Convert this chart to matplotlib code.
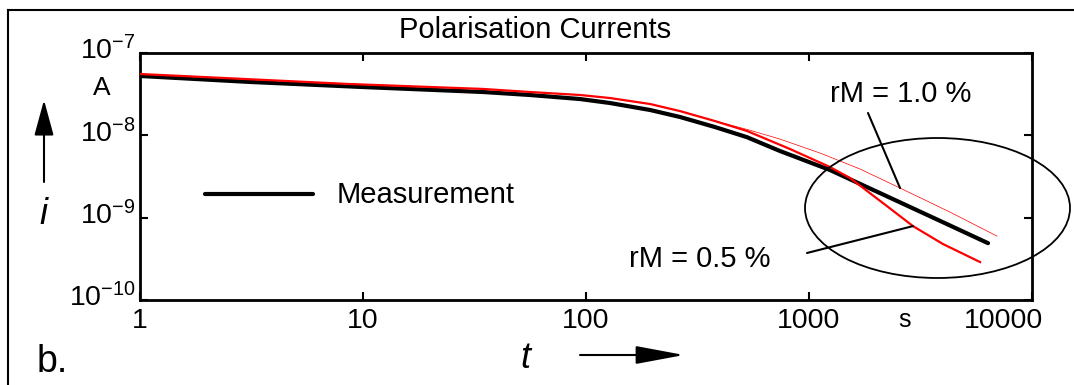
import matplotlib
matplotlib.use("Agg")
import matplotlib.pyplot as plt
from matplotlib.patches import Ellipse, FancyArrowPatch
from matplotlib.lines import Line2D
from matplotlib.ticker import NullLocator
from matplotlib.transforms import ScaledTranslation

plt.rcParams['font.family'] = ['Liberation Sans', 'DejaVu Sans']
plt.rcParams['mathtext.fontset'] = 'custom'
plt.rcParams['mathtext.rm'] = 'Liberation Sans'
plt.rcParams['mathtext.it'] = 'Liberation Sans:italic'

# Measured polarisation current (s, A)
t_meas = [1, 3.11, 10, 34.5, 56, 94, 128, 194, 264, 379, 527, 741, 1242,
          2080, 4155, 6350]
i_meas = [5.26e-8, 4.45e-8, 3.86e-8, 3.36e-8, 3.09e-8, 2.76e-8, 2.47e-8,
          2.03e-8, 1.67e-8, 1.26e-8, 9.5e-9, 6.45e-9, 3.79e-9, 1.99e-9,
          8.36e-10, 4.9e-10]

# Calculated current, rM = 0.5 %
t_rm05 = [1, 8.7, 34.5, 56, 94, 128, 194, 264, 379, 527, 822, 1242, 1528,
          2238, 2925, 3990, 5850]
i_rm05 = [5.56e-8, 4.2e-8, 3.66e-8, 3.36e-8, 3.09e-8, 2.84e-8, 2.40e-8,
          1.97e-8, 1.49e-8, 1.13e-8, 6.82e-9, 4.12e-9, 3.03e-9, 1.38e-9,
          7.9e-10, 4.78e-10, 2.89e-10]

# Calculated current, rM = 1.0 %
t_rm10 = [1, 8.7, 34.5, 56, 94, 128, 194, 264, 379, 540, 741, 1120, 1693,
          2560, 4285, 6970]
i_rm10 = [5.56e-8, 4.2e-8, 3.66e-8, 3.36e-8, 3.09e-8, 2.84e-8, 2.40e-8,
          1.97e-8, 1.49e-8, 1.16e-8, 9.0e-9, 6.1e-9, 3.9e-9, 2.29e-9,
          1.17e-9, 5.97e-10]

x_ticks = [1, 10, 100, 1000, 10000]
x_tick_labels = ['1', '10', '100', '1000', '10000']
y_ticks = [1e-10, 1e-9, 1e-8, 1e-7]
y_tick_labels = [r'$\mathregular{10^{-10}}$', r'$\mathregular{10^{-9}}$',
                 r'$\mathregular{10^{-8}}$', r'$\mathregular{10^{-7}}$']

W, H = 1074, 385
fig = plt.figure(figsize=(W / 100, H / 100), dpi=100)


def fx(x):
    return x / W


def fy(y):
    return 1 - y / H


ax = fig.add_axes([fx(140), fy(300), fx(1032) - fx(140), fy(53) - fy(300)])
ax.set_xscale('log')
ax.set_yscale('log')
ax.set_xlim(1, 1e4)
ax.set_ylim(1e-10, 1e-7)

ax.plot(t_meas, i_meas, color='black', lw=3.0, solid_capstyle='round', zorder=2)
ax.plot(t_rm05, i_rm05, color='#ff0000', lw=1.6, zorder=3)
ax.plot(t_rm10, i_rm10, color='#ff0000', lw=0.5, zorder=3)

ax.set_xticks(x_ticks, x_tick_labels)
ax.set_yticks(y_ticks, y_tick_labels)
ax.xaxis.set_minor_locator(NullLocator())
ax.yaxis.set_minor_locator(NullLocator())
ax.tick_params(which='both', direction='in', top=True, right=True,
               length=6, width=1.5, labelsize=20.5)
ax.tick_params(axis='x', pad=6)
ax.tick_params(axis='y', pad=3)
for s in ax.spines.values():
    s.set_linewidth(2)

for lbl in ax.get_yticklabels():
    lbl.set_transform(lbl.get_transform() +
                      ScaledTranslation(0, 5 / 100, fig.dpi_scale_trans))
xl = ax.get_xticklabels()
xl[-1].set_transform(xl[-1].get_transform() +
                     ScaledTranslation(-29 / 100, 0, fig.dpi_scale_trans))

# Outer panel frame
fig.add_artist(Line2D([fx(8), fx(8)], [0, fy(10)], color='black', lw=1.5))
fig.add_artist(Line2D([fx(8), 1], [fy(10), fy(10)], color='black', lw=1.5))

fig.text(fx(535), fy(30), 'Polarisation Currents', ha='center', va='center', fontsize=21)
fig.text(fx(102), fy(88), 'A', ha='center', va='center', fontsize=19)
fig.text(fx(43), fy(215), 'i', ha='center', va='center', fontsize=26, style='italic')
fig.text(fx(37), fy(362), 'b.', ha='left', va='center', fontsize=27)
fig.text(fx(525), fy(358), 't', ha='center', va='center', fontsize=26, style='italic')
fig.text(fx(905), fy(320), 's', ha='center', va='center', fontsize=18)

# Axis direction arrows
fig.add_artist(FancyArrowPatch(
    (fx(44), fy(182)), (fx(44), fy(100)), transform=fig.transFigure,
    arrowstyle='-|>,head_length=1.1,head_width=0.3', mutation_scale=20,
    lw=1.5, color='black', shrinkA=0, shrinkB=0))
fig.add_artist(FancyArrowPatch(
    (fx(580), fy(355)), (fx(684), fy(355)), transform=fig.transFigure,
    arrowstyle='-|>,head_length=1.5,head_width=0.28', mutation_scale=20,
    lw=1.5, color='black', shrinkA=0, shrinkB=0))

# Legend entry
fig.add_artist(Line2D([fx(205), fx(313)], [fy(194), fy(194)], color='black',
                      lw=3.0, solid_capstyle='round'))
fig.text(fx(337), fy(195), 'Measurement', ha='left', va='center', fontsize=21)

# Highlight ellipse and curve annotations
fig.add_artist(Ellipse((fx(937.5), fy(208)), 265 / W, 140 / H,
                       transform=fig.transFigure, fill=False, ec='black', lw=1.3))
fig.text(fx(901), fy(94), 'rM = 1.0 %', ha='center', va='center', fontsize=21)
fig.text(fx(700), fy(259), 'rM = 0.5 %', ha='center', va='center', fontsize=21)
ax.annotate('', xy=(t_rm10[13], i_rm10[13]), xycoords='data',
            xytext=(fx(868), fy(113)), textcoords='figure fraction',
            arrowprops=dict(arrowstyle='-', lw=1.5, color='black',
                            shrinkA=0, shrinkB=0), annotation_clip=False)
ax.annotate('', xy=(t_rm05[14], i_rm05[14]), xycoords='data',
            xytext=(fx(807), fy(253)), textcoords='figure fraction',
            arrowprops=dict(arrowstyle='-', lw=1.5, color='black',
                            shrinkA=0, shrinkB=0), annotation_clip=False)

fig.savefig('out.png', dpi=100)
